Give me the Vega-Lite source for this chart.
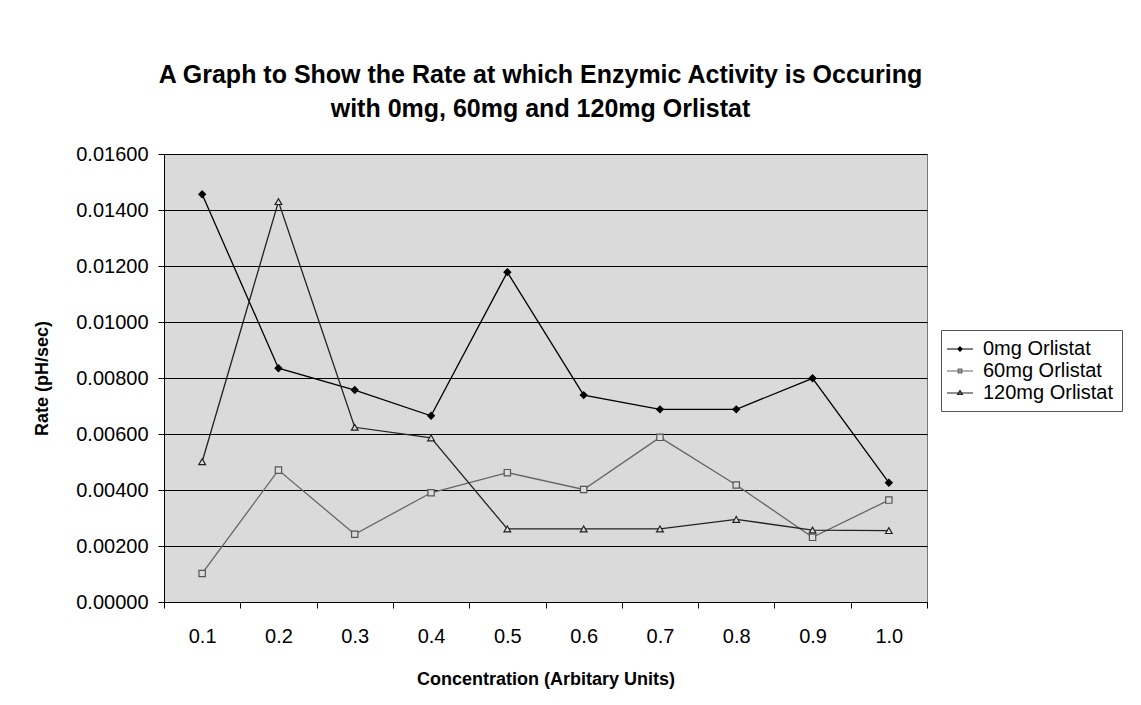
{
  "$schema": "https://vega.github.io/schema/vega-lite/v6.json",
  "width": 763,
  "height": 448,
  "autosize": {"type": "none"},
  "padding": {"left": 164, "top": 154, "right": 214, "bottom": 103},
  "background": "white",
  "config": {
    "font": "Liberation Sans",
    "view": {"fill": "#dadada", "stroke": "#777", "strokeWidth": 1}
  },
  "title": {
    "text": ["A Graph to Show the Rate at which Enzymic Activity is Occuring", "with 0mg, 60mg and 120mg Orlistat"],
    "fontSize": 25,
    "fontWeight": "bold",
    "font": "Liberation Sans",
    "color": "black",
    "anchor": "middle",
    "dx": -5,
    "offset": 22,
    "lineHeight": 34
  },
  "data": {
    "values": [
      {"conc": "0.1", "series": "0mg Orlistat", "rate": 0.01456},
      {"conc": "0.2", "series": "0mg Orlistat", "rate": 0.00835},
      {"conc": "0.3", "series": "0mg Orlistat", "rate": 0.00757},
      {"conc": "0.4", "series": "0mg Orlistat", "rate": 0.00665},
      {"conc": "0.5", "series": "0mg Orlistat", "rate": 0.01178},
      {"conc": "0.6", "series": "0mg Orlistat", "rate": 0.00739},
      {"conc": "0.7", "series": "0mg Orlistat", "rate": 0.00688},
      {"conc": "0.8", "series": "0mg Orlistat", "rate": 0.00688},
      {"conc": "0.9", "series": "0mg Orlistat", "rate": 0.00799},
      {"conc": "1.0", "series": "0mg Orlistat", "rate": 0.00426},
      {"conc": "0.1", "series": "60mg Orlistat", "rate": 0.00102},
      {"conc": "0.2", "series": "60mg Orlistat", "rate": 0.00471},
      {"conc": "0.3", "series": "60mg Orlistat", "rate": 0.00242},
      {"conc": "0.4", "series": "60mg Orlistat", "rate": 0.0039},
      {"conc": "0.5", "series": "60mg Orlistat", "rate": 0.00462},
      {"conc": "0.6", "series": "60mg Orlistat", "rate": 0.00402},
      {"conc": "0.7", "series": "60mg Orlistat", "rate": 0.00588},
      {"conc": "0.8", "series": "60mg Orlistat", "rate": 0.00418},
      {"conc": "0.9", "series": "60mg Orlistat", "rate": 0.00231},
      {"conc": "1.0", "series": "60mg Orlistat", "rate": 0.00364},
      {"conc": "0.1", "series": "120mg Orlistat", "rate": 0.00501},
      {"conc": "0.2", "series": "120mg Orlistat", "rate": 0.0143},
      {"conc": "0.3", "series": "120mg Orlistat", "rate": 0.00624},
      {"conc": "0.4", "series": "120mg Orlistat", "rate": 0.00586},
      {"conc": "0.5", "series": "120mg Orlistat", "rate": 0.00261},
      {"conc": "0.6", "series": "120mg Orlistat", "rate": 0.00261},
      {"conc": "0.7", "series": "120mg Orlistat", "rate": 0.00261},
      {"conc": "0.8", "series": "120mg Orlistat", "rate": 0.00295},
      {"conc": "0.9", "series": "120mg Orlistat", "rate": 0.00257},
      {"conc": "1.0", "series": "120mg Orlistat", "rate": 0.00255}
    ]
  },
  "encoding": {
    "x": {
      "field": "conc",
      "type": "ordinal",
      "scale": {"type": "band", "paddingInner": 0, "paddingOuter": 0},
      "axis": {
        "title": "Concentration (Arbitary Units)",
        "titleFontSize": 18,
        "titleFontWeight": "bold",
        "titleColor": "black",
        "titlePadding": 24,
        "labelAngle": 0,
        "labelFontSize": 20,
        "labelColor": "black",
        "labelPadding": 18,
        "tickBand": "extent",
        "tickSize": 6,
        "tickColor": "black",
        "domainColor": "black",
        "grid": false
      }
    },
    "y": {
      "field": "rate",
      "type": "quantitative",
      "scale": {"domain": [0, 0.016], "nice": false},
      "axis": {
        "title": "Rate (pH/sec)",
        "titleFontSize": 18,
        "titleFontWeight": "bold",
        "titleColor": "black",
        "titlePadding": 24,
        "values": [0, 0.002, 0.004, 0.006, 0.008, 0.01, 0.012, 0.014, 0.016],
        "format": ".5f",
        "labelFontSize": 20,
        "labelColor": "black",
        "labelPadding": 10,
        "tickSize": 6,
        "tickColor": "black",
        "domainColor": "black",
        "grid": true,
        "gridColor": "black",
        "gridWidth": 1.2
      }
    }
  },
  "layer": [
    {
      "mark": {"type": "line", "strokeWidth": 1.3},
      "encoding": {
        "color": {
          "field": "series",
          "type": "nominal",
          "scale": {"domain": ["0mg Orlistat", "60mg Orlistat", "120mg Orlistat"], "range": ["#000000", "#666666", "#222222"]},
          "legend": {
            "title": null,
            "orient": "none",
            "legendX": 777,
            "legendY": 176,
            "fillColor": "white",
            "strokeColor": "#555555",
            "padding": 8,
            "labelFontSize": 20,
            "labelColor": "black",
            "labelOffset": 12,
            "symbolSize": 400,
            "rowPadding": 1,
            "encode": {
              "symbols": {
                "update": {
                  "shape": {"signal": "datum.value === '0mg Orlistat' ? 'M-1.3,0H1.3M0,-0.22L0.22,0L0,0.22L-0.22,0Z' : datum.value === '60mg Orlistat' ? 'M-1.3,0H1.3M-0.18,-0.18H0.18V0.18H-0.18Z' : 'M-1.3,0H1.3M0,-0.24L0.24,0.15L-0.24,0.15Z'"},
                  "size": {"value": 400},
                  "opacity": {"value": 1},
                  "stroke": {"signal": "datum.value === '60mg Orlistat' ? '#555555' : '#111111'"},
                  "strokeWidth": {"value": 1.2},
                  "fill": {"signal": "datum.value === '0mg Orlistat' ? '#000000' : '#cccccc'"}
                }
              }
            }
          }
        }
      }
    },
    {
      "transform": [{"filter": "datum.series === '0mg Orlistat'"}],
      "mark": {"type": "point", "shape": "diamond", "size": 45, "strokeWidth": 1.2, "filled": true, "fill": "#000000", "stroke": "#000000", "opacity": 1}
    },
    {
      "transform": [{"filter": "datum.series === '60mg Orlistat'"}],
      "mark": {"type": "point", "shape": "square", "size": 40, "strokeWidth": 1.2, "fill": "#dddddd", "stroke": "#555555", "opacity": 1}
    },
    {
      "transform": [{"filter": "datum.series === '120mg Orlistat'"}],
      "mark": {"type": "point", "shape": "triangle-up", "size": 45, "strokeWidth": 1.2, "fill": "#dddddd", "stroke": "#222222", "opacity": 1}
    }
  ]
}
